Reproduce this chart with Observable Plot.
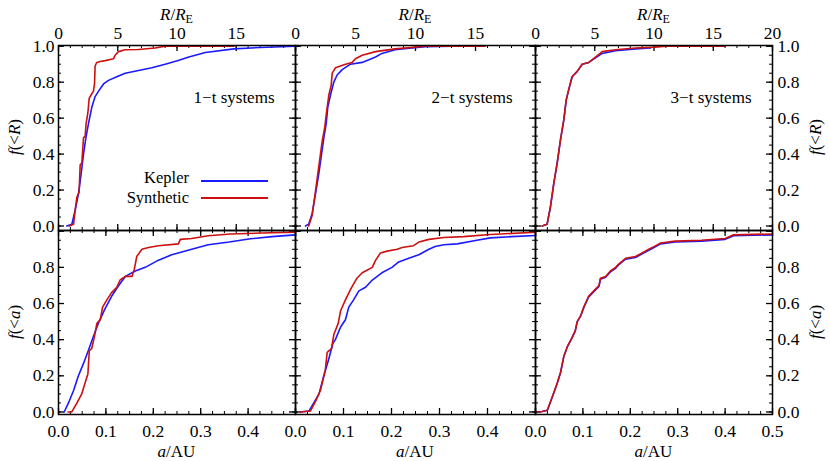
<!DOCTYPE html>
<html>
<head>
<meta charset="utf-8">
<script src="https://cdn.jsdelivr.net/npm/d3@7"></script>
<script src="https://cdn.jsdelivr.net/npm/@observablehq/plot@0.6"></script>
<style>
  html, body { margin: 0; padding: 0; background: white; }
  #chart { position: relative; width: 830px; height: 461px; font-family: "Liberation Serif", "Times New Roman", Times, serif; color: black; overflow: hidden; }
  #chart svg { position: absolute; }
  .lbl { position: absolute; font-size: 17px; white-space: nowrap; transform: translate(-50%, -50%); line-height: 1; }
  .rot { transform: translate(-50%, -50%) rotate(-90deg); }
  .leg { position: absolute; font-size: 16.5px; white-space: nowrap; line-height: 16px; height: 16px; }
  .legline { position: absolute; height: 2px; }
  sub { font-size: 12px; vertical-align: -3px; }
</style>
</head>
<body>
<div id="chart"></div>
<script>
// ---------------- data ----------------
const panelLabels = ["1\u2212t systems", "2\u2212t systems", "3\u2212t systems"];
const seriesNames = ["Kepler", "Synthetic"];
const radiusTicks = [0, 5, 10, 15, 20];
const axisTicksA = [0, 0.1, 0.2, 0.3, 0.4, 0.5];
const fracTicks = [0, 0.2, 0.4, 0.6, 0.8, 1.0];

// f(<R) vs R/R_E
const rKepler1 = [[0.7,0],[1.13,0.01],[1.41,0.09],[1.69,0.18],[1.91,0.29],[2.11,0.40],[2.31,0.49],[2.53,0.57],[2.81,0.66],[3.09,0.72],[3.38,0.75],[3.8,0.79],[4.22,0.81],[4.92,0.83],[5.63,0.85],[6.75,0.865],[7.88,0.88],[9.0,0.90],[10.1,0.92],[11.0,0.94],[12.4,0.965],[14.8,0.985],[17,0.993],[20,1.0]];
const rSynth1 = [[0.9,0],[1.27,0.01],[1.41,0.09],[1.55,0.16],[1.74,0.19],[1.83,0.34],[1.97,0.35],[2.11,0.49],[2.25,0.5],[2.33,0.57],[2.48,0.63],[2.59,0.71],[2.76,0.73],[2.95,0.75],[3.04,0.79],[3.09,0.89],[3.23,0.91],[3.52,0.915],[3.94,0.92],[4.64,0.93],[4.78,0.95],[5.06,0.97],[5.63,0.98],[6.75,0.982],[8.16,0.99],[9.0,1.0],[14.8,1.0]];
const rKepler2 = [[0.83,0],[1.1,0.01],[1.39,0.07],[1.67,0.18],[1.94,0.29],[2.17,0.40],[2.36,0.49],[2.56,0.57],[2.69,0.66],[2.92,0.73],[3.19,0.80],[3.47,0.84],[3.89,0.87],[4.58,0.90],[5.56,0.91],[6.67,0.94],[7.2,0.96],[8.3,0.98],[9.7,0.99],[10.8,0.997],[13.2,1.0]];
const rSynth2 = [[1.1,0],[1.39,0.06],[1.72,0.22],[1.94,0.33],[2.22,0.47],[2.44,0.55],[2.56,0.62],[2.78,0.73],[2.97,0.78],[3.06,0.85],[3.33,0.88],[3.75,0.89],[4.17,0.90],[4.72,0.91],[5.0,0.93],[5.56,0.95],[6.67,0.97],[8.3,0.985],[10.8,1.0],[15.8,1.0]];
const rKepler3 = [[0.56,0],[0.98,0.01],[1.27,0.11],[1.55,0.24],[1.83,0.35],[2.11,0.48],[2.39,0.59],[2.59,0.70],[2.81,0.76],[3.09,0.83],[3.52,0.86],[3.94,0.90],[4.5,0.91],[5.06,0.935],[5.63,0.96],[6.75,0.975],[8.44,0.985],[9.7,0.99]];
const rSynth3 = [[0.56,0],[0.98,0.01],[1.27,0.11],[1.55,0.24],[1.83,0.35],[2.11,0.48],[2.39,0.59],[2.59,0.70],[2.81,0.76],[3.09,0.83],[3.52,0.86],[3.94,0.90],[4.5,0.91],[5.06,0.94],[5.63,0.97],[6.75,0.98],[8.44,0.99],[10.1,0.995],[11,1.0],[16,1.0]];

// f(<a) vs a/AU
const aKepler1 = [[0.012,0],[0.021,0.05],[0.032,0.12],[0.042,0.20],[0.053,0.27],[0.063,0.34],[0.074,0.42],[0.084,0.49],[0.098,0.57],[0.112,0.64],[0.127,0.70],[0.141,0.75],[0.162,0.78],[0.183,0.80],[0.211,0.84],[0.239,0.87],[0.281,0.90],[0.316,0.925],[0.36,0.94],[0.405,0.958],[0.45,0.97],[0.5,0.98]];
const aSynth1 = [[0.02,0],[0.028,0.0],[0.039,0.05],[0.049,0.10],[0.056,0.16],[0.062,0.21],[0.065,0.34],[0.070,0.35],[0.076,0.42],[0.081,0.49],[0.088,0.51],[0.093,0.58],[0.102,0.62],[0.112,0.66],[0.123,0.69],[0.130,0.73],[0.141,0.75],[0.155,0.75],[0.160,0.79],[0.165,0.86],[0.176,0.90],[0.190,0.91],[0.211,0.92],[0.253,0.93],[0.257,0.955],[0.281,0.96],[0.316,0.975],[0.363,0.985],[0.43,0.99],[0.5,0.995]];
const aKepler2 = [[0.01,0],[0.028,0.005],[0.038,0.05],[0.049,0.10],[0.059,0.20],[0.069,0.29],[0.078,0.38],[0.083,0.40],[0.094,0.47],[0.104,0.51],[0.111,0.58],[0.121,0.62],[0.132,0.67],[0.146,0.69],[0.160,0.73],[0.180,0.77],[0.201,0.80],[0.215,0.83],[0.236,0.85],[0.257,0.87],[0.278,0.90],[0.291,0.915],[0.309,0.925],[0.337,0.93],[0.378,0.95],[0.406,0.963],[0.45,0.97],[0.5,0.976]];
const aSynth2 = [[0.01,0],[0.031,0.005],[0.042,0.06],[0.052,0.12],[0.062,0.23],[0.066,0.33],[0.075,0.35],[0.080,0.43],[0.089,0.49],[0.094,0.56],[0.104,0.62],[0.115,0.68],[0.128,0.74],[0.139,0.77],[0.146,0.78],[0.160,0.80],[0.167,0.84],[0.177,0.88],[0.191,0.89],[0.212,0.90],[0.222,0.91],[0.246,0.92],[0.257,0.94],[0.278,0.955],[0.309,0.965],[0.35,0.97],[0.406,0.982],[0.5,0.994]];
const aKepler3 = [[0.004,0],[0.014,0.003],[0.025,0.01],[0.035,0.08],[0.046,0.16],[0.053,0.22],[0.060,0.31],[0.067,0.36],[0.077,0.41],[0.084,0.45],[0.088,0.50],[0.095,0.53],[0.102,0.58],[0.112,0.635],[0.123,0.665],[0.134,0.695],[0.137,0.735],[0.148,0.745],[0.158,0.775],[0.169,0.795],[0.176,0.815],[0.190,0.845],[0.211,0.855],[0.225,0.875],[0.239,0.895],[0.250,0.91],[0.264,0.93],[0.295,0.94],[0.35,0.945],[0.40,0.955],[0.418,0.975],[0.5,0.98]];
const aSynth3 = [[0.004,0],[0.014,0.003],[0.025,0.01],[0.035,0.08],[0.046,0.16],[0.053,0.22],[0.060,0.31],[0.067,0.36],[0.077,0.41],[0.084,0.45],[0.088,0.50],[0.095,0.53],[0.102,0.58],[0.112,0.64],[0.123,0.67],[0.134,0.70],[0.137,0.74],[0.148,0.75],[0.158,0.78],[0.169,0.80],[0.176,0.82],[0.190,0.85],[0.211,0.86],[0.225,0.88],[0.239,0.90],[0.250,0.915],[0.264,0.935],[0.295,0.945],[0.35,0.95],[0.40,0.96],[0.418,0.98],[0.5,0.985]];

// ---------------- layout ----------------
const chart = document.getElementById("chart");
const colLeft = [58, 295, 535];
const colWidth = [237, 240, 237];
const rowTop = [45, 230];
const rowHeight = [185, 184];
const M = 40;
const BLUE = "#1a1aff", RED = "#cc1010";
const FONT = "Liberation Serif";
const TICKFS = 17.5, LABELFS = 17;

function range(a, b, s) { return d3.range(Math.round((b - a) / s) + 1).map(i => +(a + i * s).toFixed(4)); }

function panel(row, col, kepler, synth) {
  const w = colWidth[col], h = rowHeight[row];
  const isR = row === 0;
  const xDomain = isR ? [0, 20] : [0, 0.5];
  const yDomain = isR ? [-0.025, 1.004] : [-0.014, 1.004];
  const xMajor = isR ? radiusTicks : axisTicksA;
  const xMinor = isR ? range(0, 20, 1) : range(0, 0.5, 0.025);
  const yMajor = fracTicks;
  const yMinor = range(0, 1, 0.05);
  const xLabelTicks = col === 2 ? xMajor : xMajor.slice(0, -1);
  const yLabelTicks = isR ? yMajor : yMajor.slice(0, -1);
  const marks = [];
  const tk = (vals, len, sw) => [
    Plot.ruleX(vals, {x: d => d, insetTop: h - len, stroke: "black", strokeWidth: sw}),
    Plot.ruleX(vals, {x: d => d, insetBottom: h - len, stroke: "black", strokeWidth: sw}),
  ];
  const tky = (vals, len, sw) => [
    Plot.ruleY(vals, {y: d => d, insetRight: w - len, stroke: "black", strokeWidth: sw}),
    Plot.ruleY(vals, {y: d => d, insetLeft: w - len, stroke: "black", strokeWidth: sw}),
  ];
  marks.push(...tk(xMinor, 3, 1), ...tk(xMajor, 6, 1.3), ...tky(yMinor, 3, 1), ...tky(yMajor, 6, 1.3));
  marks.push(Plot.line(kepler, {x: d => d[0], y: d => d[1], stroke: BLUE, strokeWidth: 1.6}));
  marks.push(Plot.line(synth, {x: d => d[0], y: d => d[1], stroke: RED, strokeWidth: 1.6}));
  marks.push(Plot.frame({stroke: "black", strokeWidth: 1.5}));
  const txt = {fontFamily: FONT, fill: "black", lineAnchor: "middle"};
  if (isR) {
    marks.push(Plot.text(xLabelTicks, {...txt, x: d => d, frameAnchor: "top", dy: -12, text: d => String(d), fontSize: TICKFS}));
    marks.push(Plot.text([panelLabels[col]], {...txt, frameAnchor: "top-right", dx: col === 1 ? -23 : -21, dy: 52, text: d => d, textAnchor: "end", fontSize: LABELFS}));
  } else {
    marks.push(Plot.text(xLabelTicks, {...txt, x: d => d, frameAnchor: "bottom", dy: 17, text: d => d.toFixed(1), fontSize: TICKFS}));
  }
  if (col === 0) {
    marks.push(Plot.text(yLabelTicks, {...txt, y: d => d, frameAnchor: "left", dx: -4, text: d => d.toFixed(1), textAnchor: "end", fontSize: TICKFS}));
  }
  if (col === 2) {
    marks.push(Plot.text(yLabelTicks, {...txt, y: d => d, frameAnchor: "right", dx: 5, text: d => d.toFixed(1), textAnchor: "start", fontSize: TICKFS}));
  }
  const svg = Plot.plot({
    width: w + 2 * M, height: h + 2 * M,
    marginTop: M, marginBottom: M, marginLeft: M, marginRight: M,
    x: {domain: xDomain, axis: null},
    y: {domain: yDomain, axis: null},
    style: {background: "transparent", overflow: "visible", fontFamily: FONT, fontSize: TICKFS + "px", color: "black"},
    marks
  });
  svg.style.left = (colLeft[col] - M) + "px";
  svg.style.top = (rowTop[row] - M) + "px";
  chart.appendChild(svg);
}

panel(0, 0, rKepler1, rSynth1);
panel(0, 1, rKepler2, rSynth2);
panel(0, 2, rKepler3, rSynth3);
panel(1, 0, aKepler1, aSynth1);
panel(1, 1, aKepler2, aSynth2);
panel(1, 2, aKepler3, aSynth3);

function addLabel(html, x, y, rot) {
  const d = document.createElement("div");
  d.className = "lbl" + (rot ? " rot" : "");
  d.style.left = x + "px"; d.style.top = y + "px";
  d.innerHTML = html;
  chart.appendChild(d);
}
const centers = colLeft.map((l, i) => l + colWidth[i] / 2);
centers.forEach(c => {
  addLabel("<i>R</i>/<i>R</i><sub>E</sub>", c, 15);
  addLabel("<i>a</i>/AU", c, 451);
});
addLabel("<i>f</i>(&lt;<i>R</i>)", 14, 137, true);
addLabel("<i>f</i>(&lt;<i>R</i>)", 815, 137, true);
addLabel("<i>f</i>(&lt;<i>a</i>)", 14, 322, true);
addLabel("<i>f</i>(&lt;<i>a</i>)", 815, 322, true);

[[seriesNames[0], BLUE, 181, 170], [seriesNames[1], RED, 198, 190]].forEach(([name, color, y, ty]) => {
  const t = document.createElement("div");
  t.className = "leg";
  t.textContent = name;
  t.style.right = (830 - 189) + "px";
  t.style.top = ty + "px";
  chart.appendChild(t);
  const l = document.createElement("div");
  l.className = "legline";
  l.style.left = "201px"; l.style.width = "67px";
  l.style.top = (y - 1) + "px";
  l.style.background = color;
  chart.appendChild(l);
});
</script>
</body>
</html>
